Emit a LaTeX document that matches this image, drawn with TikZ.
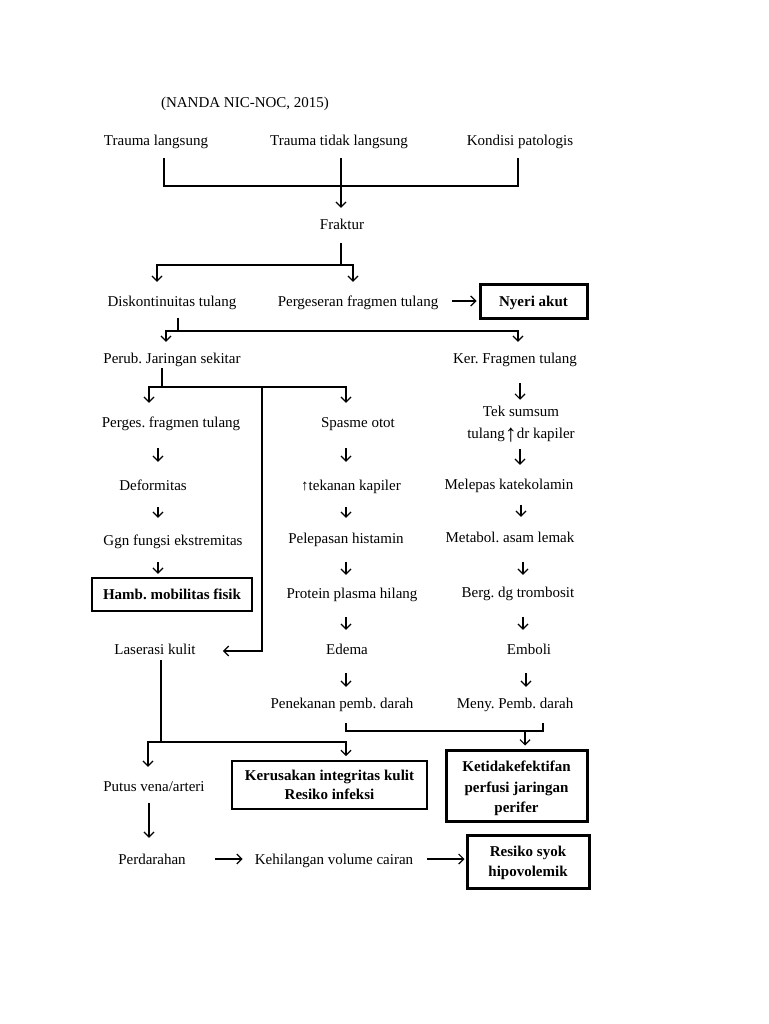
\documentclass[tikz,border=0pt]{standalone}
\usepackage{fontspec}
\setmainfont{Liberation Serif}
\usetikzlibrary{arrows.meta}
\begin{document}
\begin{tikzpicture}[x=1pt,y=-1pt,
  txt/.style={inner sep=0pt, text height=12.5pt, text depth=1.5pt, font=\fontsize{15}{18}\selectfont\frenchspacing},
  multi/.style={inner sep=0pt, align=center, font=\fontsize{15}{22}\selectfont\frenchspacing},
  bx/.style={draw, line width=2.5pt, inner sep=0pt, align=center, font=\fontsize{15}{20}\selectfont\bfseries\frenchspacing},
  ln/.style={line width=1.2pt},
  arr/.style={ln, -{Straight Barb[length=5pt,width=10pt]}}]
\fill[white] (0,0) rectangle (768,1024);
\useasboundingbox (0,0) rectangle (768,1024);

% nodes
\node[txt] (title) at (245,102) {(NANDA NIC-NOC, 2015)};
\node[txt] (tl) at (156,140) {Trauma langsung};
\node[txt] (ttl) at (339,140) {Trauma tidak langsung};
\node[txt] (kp) at (520,140) {Kondisi patologis};
\node[txt] (frak) at (342,224) {Fraktur};
\node[txt] (disk) at (172,301) {Diskontinuitas tulang};
\node[txt] (perg) at (358,301) {Pergeseran fragmen tulang};
\node[bx, line width=3pt, minimum width=107pt, minimum height=34pt, text height=13pt, text depth=2pt] (nyeri) at (533.5,301) {Nyeri akut};
\node[txt] (perub) at (172,358) {Perub. Jaringan sekitar};
\node[txt] (ker) at (515,358) {Ker. Fragmen tulang};
\node[txt] (perges) at (171,422) {Perges. fragmen tulang};
\node[txt] (spasme) at (358,422) {Spasme otot};
\node[multi] (tek) at (521,424) {Tek sumsum\\tulang\raisebox{-3pt}{\fontsize{24}{24}\selectfont ↑}dr kapiler};
\node[txt] (defo) at (153,485) {Deformitas};
\node[txt] (tekan) at (351,485) {↑tekanan kapiler};
\node[txt] (mel) at (509,484) {Melepas katekolamin};
\node[txt] (ggn) at (173,540) {Ggn fungsi ekstremitas};
\node[txt] (pelep) at (346,538) {Pelepasan histamin};
\node[txt] (metab) at (510,537) {Metabol. asam lemak};
\node[bx, minimum width=160pt, minimum height=33pt] (hamb) at (172,594.5) {Hamb. mobilitas fisik};
\node[txt] (protein) at (352,593) {Protein plasma hilang};
\node[txt] (berg) at (518,592) {Berg. dg trombosit};
\node[txt] (laser) at (155,649) {Laserasi kulit};
\node[txt] (edema) at (347,649) {Edema};
\node[txt] (emboli) at (529,649) {Emboli};
\node[txt] (penek) at (342,703) {Penekanan pemb. darah};
\node[txt] (meny) at (515,703) {Meny. Pemb. darah};
\node[bx, line width=2pt, minimum width=195pt, minimum height=48pt, font=\fontsize{15}{19}\selectfont\bfseries] (kerus) at (329.5,785) {Kerusakan integritas kulit\\Resiko infeksi};
\node[bx, line width=3pt, minimum width=141pt, minimum height=71pt, font=\fontsize{15}{20.5}\selectfont\bfseries] (ketid) at (516.5,785.5) {\rule{0pt}{17pt}Ketidakefektifan\\perfusi jaringan\\perifer};
\node[txt] (putus) at (154,786) {Putus vena/arteri};
\node[txt] (perd) at (152,859) {Perdarahan};
\node[txt] (kehil) at (334,859) {Kehilangan volume cairan};
\node[bx, line width=3pt, minimum width=122pt, minimum height=53pt] (resiko) at (528,861.5) {\rule{0pt}{13pt}Resiko syok\\hipovolemik};

% top bracket
\draw[ln] (tl.south -| 164,0) ++(0,11) -- (164,186) -- (518,186) -- (518,158);
\draw[arr, shorten >=9pt] (ttl.south -| 341,0) ++(0,11) -- (frak.north -| 341,0);

% fraktur split
\draw[ln] (frak.south -| 341,0) ++(0,12) -- (341,265);
\draw[arr, shorten >=12pt] (341,265) -| (disk.north -| 157,0);
\draw[arr, shorten >=12pt] (341,265) -| (perg.north -| 353,0);
\draw[arr, shorten <=14pt, shorten >=2pt] (perg.east) -- (perg.east -| nyeri.west);

% diskontinuitas split
\draw[ln] (disk.south -| 178,0) ++(0,10) -- (178,331);
\draw[arr, shorten >=9pt] (178,331) -| (perub.north -| 166,0);
\draw[arr, shorten >=9pt] (178,331) -| (ker.north -| 518,0);

% perub split
\draw[ln] (perub.south -| 162,0) ++(0,3) -- (162,387);
\draw[arr, shorten >=12pt] (162,387) -| (perges.north -| 149,0);
\draw[arr, shorten >=12pt] (162,387) -| (spasme.north -| 346,0);
\draw[arr, shorten >=27pt] (262,387) |- ([yshift=-2pt]laser.east);

% left column
\draw[arr, shorten <=19pt, shorten >=16pt] (perges.south -| 158,0) -- (defo.north -| 158,0);
\draw[arr, shorten <=15pt, shorten >=15pt] (defo.south -| 158,0) -- (ggn.north -| 158,0);
\draw[arr, shorten <=15pt, shorten >=3pt] (ggn.south -| 158,0) -- (hamb.north -| 158,0);

% middle column
\draw[arr, shorten <=19pt, shorten >=16pt] (spasme.south -| 346,0) -- (tekan.north -| 346,0);
\draw[arr, shorten <=15pt, shorten >=13pt] (tekan.south -| 346,0) -- (pelep.north -| 346,0);
\draw[arr, shorten <=17pt, shorten >=11pt] (pelep.south -| 346,0) -- (protein.north -| 346,0);
\draw[arr, shorten <=17pt, shorten >=12pt] (protein.south -| 346,0) -- (edema.north -| 346,0);
\draw[arr, shorten <=17pt, shorten >=9pt] (edema.south -| 346,0) -- (penek.north -| 346,0);

% right column
\draw[arr, shorten <=18pt, shorten >=6pt] (ker.south -| 520,0) -- (tek.north -| 520,0);
\draw[arr, shorten <=7pt, shorten >=12pt] (tek.south -| 520,0) -- (mel.north -| 520,0);
\draw[arr, shorten <=14pt, shorten >=13pt] (mel.south -| 521,0) -- (metab.north -| 521,0);
\draw[arr, shorten <=18pt, shorten >=10pt] (metab.south -| 523,0) -- (berg.north -| 523,0);
\draw[arr, shorten <=18pt, shorten >=12pt] (berg.south -| 523,0) -- (emboli.north -| 523,0);
\draw[arr, shorten <=17pt, shorten >=9pt] (emboli.south -| 526,0) -- (meny.north -| 526,0);

% bottom bracket to ketidakefektifan
\draw[ln] (penek.south -| 346,0) ++(0,13) -- (346,731) -- (543,731) -- (543,723);
\draw[arr, shorten >=3pt] (525,731) -- (ketid.north -| 525,0);

% laserasi split
\draw[ln] (laser.south -| 161,0) ++(0,4) -- (161,742);
\draw[arr, shorten >=12pt] (161,742) -| (putus.north -| 148,0);
\draw[arr, shorten >=4pt] (161,742) -| (kerus.north -| 346,0);

% bottom chain
\draw[arr, shorten <=10pt, shorten >=14pt] (putus.south -| 149,0) -- (perd.north -| 149,0);
\draw[arr, shorten <=29pt, shorten >=12pt] (perd.east) -- (kehil.west);
\draw[arr, shorten <=14pt, shorten >=1pt] (kehil.east) -- (kehil.east -| resiko.west);
\end{tikzpicture}
\end{document}
